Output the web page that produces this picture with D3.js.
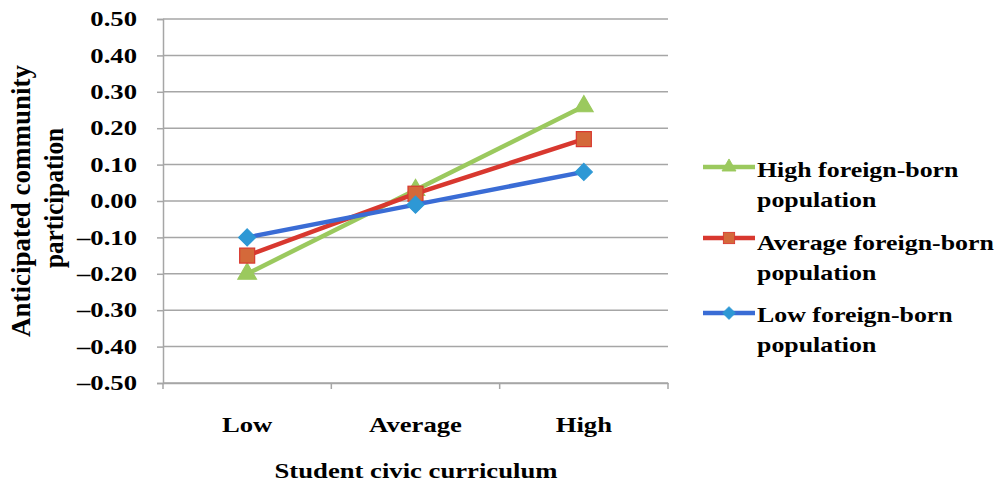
<!DOCTYPE html>
<html><head><meta charset="utf-8">
<script src="https://cdn.jsdelivr.net/npm/d3@7"></script>
<style>body{margin:0;background:#fff;}svg{display:block;}</style>
</head><body>
<svg id="c" width="997" height="484"></svg>
<script>
const categories = ["Low", "Average", "High"];
const seriesNames = ["High foreign-born population", "Average foreign-born population", "Low foreign-born population"];
const highForeign = [-0.20, 0.03, 0.26];
const avgForeign = [-0.15, 0.02, 0.17];
const lowForeign = [-0.10, -0.01, 0.08];
const yTicks = [0.5, 0.4, 0.3, 0.2, 0.1, 0, -0.1, -0.2, -0.3, -0.4, -0.5];
const yTitle = ["Anticipated community", "participation"];
const xTitle = "Student civic curriculum";

const FONT = "Liberation Serif";
const FS = 21;
const STRETCH = 1.27;

const series = [
  {name: seriesNames[0], values: highForeign, line: "#9BC95E", fill: "#9BC95E", stroke: "#9BC95E", shape: "tri"},
  {name: seriesNames[1], values: avgForeign, line: "#D8382F", fill: "#D4693A", stroke: "#D8382F", shape: "sq"},
  {name: seriesNames[2], values: lowForeign, line: "#3A6CD5", fill: "#2E98D5", stroke: "#2E98D5", shape: "dia"}
];

const svg = d3.select("#c");
const L = 163, R = 668, T = 19, B = 383;
const x = d3.scaleBand().domain(categories).range([L, R]);
const y = d3.scaleLinear().domain([-0.5, 0.5]).range([B, T]);

function styleText(sel) {
  sel.attr("font-family", FONT).attr("font-weight", "bold").attr("font-size", FS).attr("fill", "#000");
}
function stretch(sel, f) {
  sel.each(function () {
    const len = this.getComputedTextLength();
    d3.select(this).attr("textLength", len * f).attr("lengthAdjust", "spacingAndGlyphs");
  });
}

// gridlines
svg.append("g").selectAll("line").data(yTicks).join("line")
  .attr("x1", L).attr("x2", R).attr("y1", d => y(d)).attr("y2", d => y(d))
  .attr("stroke", "#a6a6a6").attr("stroke-width", 1.5);

// y axis
const yAxis = svg.append("g").attr("transform", `translate(${L},0)`)
  .call(d3.axisLeft(y).tickValues(yTicks).tickSize(6).tickPadding(20)
    .tickFormat(d => (d < 0 ? "\u2013" : "") + Math.abs(d).toFixed(2)));
yAxis.attr("font-family", null).attr("font-size", null);
yAxis.select(".domain").attr("stroke", "#a6a6a6").attr("stroke-width", 1.5);
yAxis.selectAll(".tick line").attr("stroke", "#a6a6a6").attr("stroke-width", 1.5);
styleText(yAxis.selectAll("text"));
stretch(yAxis.selectAll("text"), STRETCH);

// x axis
const xAxis = svg.append("g").attr("transform", `translate(0,${B})`)
  .call(d3.axisBottom(x).tickSize(0).tickPadding(34));
xAxis.attr("font-family", null).attr("font-size", null);
xAxis.select(".domain").attr("stroke", "#a6a6a6").attr("stroke-width", 1.5);
styleText(xAxis.selectAll("text"));
stretch(xAxis.selectAll("text"), STRETCH);
// x tick marks at band boundaries
const bounds = categories.map(c => x(c)).concat([x(categories[categories.length - 1]) + x.bandwidth()]);
svg.append("g").selectAll("line").data(bounds).join("line")
  .attr("x1", d => d).attr("x2", d => d).attr("y1", B).attr("y2", B + 6)
  .attr("stroke", "#a6a6a6").attr("stroke-width", 1.5);

const cx = c => x(c) + x.bandwidth() / 2;
const line = d3.line().x((d, i) => cx(categories[i])).y(d => y(d));

function marker(g, shape, s) {
  if (shape === "tri") g.append("path").attr("d", d3.symbol(d3.symbolTriangle, 150)());
  else if (shape === "sq") g.append("rect").attr("x", -7.5).attr("y", -7.5).attr("width", 15).attr("height", 15);
  else g.append("path").attr("d", "M0,-8.5L8.5,0L0,8.5L-8.5,0Z");
  g.selectAll("path,rect").attr("fill", s.fill).attr("stroke", s.stroke).attr("stroke-width", 1.2);
}

series.forEach(s => {
  svg.append("path").datum(s.values).attr("d", line)
    .attr("fill", "none").attr("stroke", s.line).attr("stroke-width", 4.5);
  s.values.forEach((v, i) => {
    const g = svg.append("g").attr("transform", `translate(${cx(categories[i])},${y(v)})`);
    marker(g, s.shape, s);
  });
});

// y axis title (rotated, glyphs stretched across page-x)
const ytg = svg.append("g").attr("transform", "translate(0,201) scale(1.28,1) rotate(-90)");
const yt = ytg.append("text").attr("text-anchor", "middle");
styleText(yt);
const yLens = [272, 140];
const yBase = [30 / 1.28, 63 / 1.28];
const yOff = [0, 3];
yTitle.forEach((t, i) => yt.append("tspan").attr("x", yOff[i]).attr("y", yBase[i])
  .attr("textLength", yLens[i]).attr("lengthAdjust", "spacingAndGlyphs").text(t));

// x axis title
const xt = svg.append("text").attr("x", 416).attr("y", 478).attr("text-anchor", "middle").text(xTitle);
styleText(xt);
stretch(xt, STRETCH);

// legend
const legLineY = [167, 238, 313];
const legTextY = [177, 250, 322];
series.forEach((s, k) => {
  const g = svg.append("g");
  g.append("line").attr("x1", 703).attr("x2", 755).attr("y1", legLineY[k]).attr("y2", legLineY[k])
    .attr("stroke", s.line).attr("stroke-width", 4.5);
  const m = g.append("g").attr("transform", `translate(729,${legLineY[k]}) scale(0.75)`);
  marker(m, s.shape, s);
  const words = s.name.split(" ");
  const t = g.append("text");
  styleText(t);
  t.append("tspan").attr("x", 757).attr("y", legTextY[k]).text(words.slice(0, 2).join(" "));
  t.append("tspan").attr("x", 757).attr("y", legTextY[k] + 30).text(words.slice(2).join(" "));
  stretch(t.selectAll("tspan"), STRETCH * 0.97);
});
</script>
</body></html>
